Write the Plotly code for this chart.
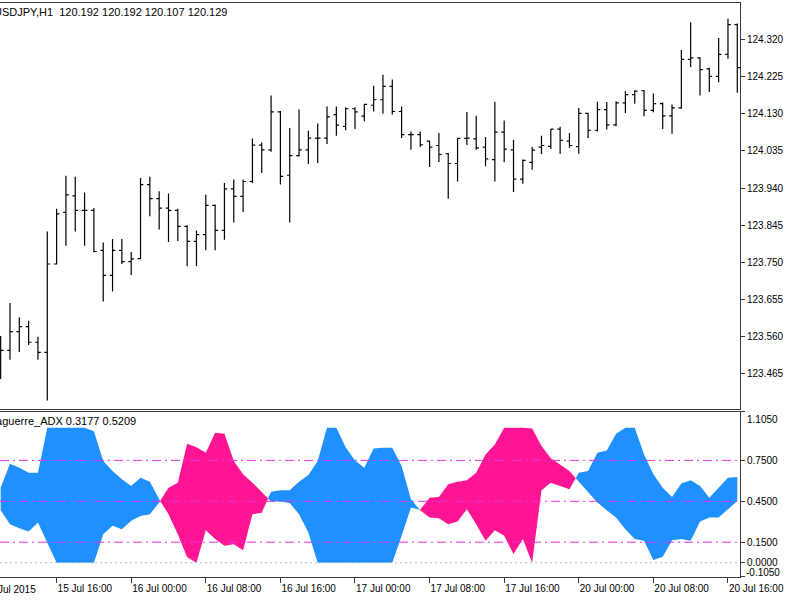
import numpy as np
import pandas as pd
import plotly.graph_objects as go

# ---------------- data ----------------
symbol_label = "USDJPY,H1\u00a0\u00a0120.192 120.192 120.107 120.129"
indicator_label = "Laguerre_ADX 0.3177 0.5209"

times = list(pd.date_range("2015-07-15 10:00", "2015-07-17 23:00", freq="h")) + \
        list(pd.date_range("2015-07-20 00:00", "2015-07-20 17:00", freq="h"))
first_label = "15 Jul 2015"   # label of 15 Jul 08:00, two bars before the first visible bar

opens = [123.484, 123.525, 123.573, 123.586, 123.546, 123.520, 123.746, 123.878, 123.920, 123.883,
         123.883, 123.781, 123.717, 123.781, 123.752, 123.760, 123.949, 123.913, 123.889, 123.883,
         123.842, 123.804, 123.821, 123.896, 123.832, 123.938, 123.919, 123.957, 124.050, 124.038,
         124.135, 123.973, 124.023, 124.038, 124.068, 124.068, 124.128, 124.098, 124.143, 124.124,
         124.152, 124.166, 124.200, 124.136, 124.077, 124.077, 124.060, 124.049, 124.028, 124.003,
         124.067, 124.066, 124.045, 124.013, 124.083, 124.038, 123.963, 124.006, 124.045, 124.047,
         124.091, 124.060, 124.046, 124.131, 124.088, 124.141, 124.102, 124.158, 124.179, 124.189,
         124.139, 124.156, 124.125, 124.145, 124.269, 124.273, 124.245, 124.226, 124.282, 124.358]
highs = [123.562, 123.646, 123.610, 123.601, 123.560, 123.829, 123.887, 123.972, 123.969, 123.929,
         123.889, 123.801, 123.810, 123.810, 123.777, 123.966, 123.969, 123.932, 123.926, 123.887,
         123.845, 123.832, 123.923, 123.898, 123.953, 123.962, 123.962, 124.067, 124.057, 124.177,
         124.137, 124.094, 124.141, 124.087, 124.105, 124.149, 124.149, 124.147, 124.147, 124.155,
         124.202, 124.230, 124.218, 124.149, 124.085, 124.085, 124.062, 124.081, 124.030, 124.067,
         124.135, 124.125, 124.071, 124.161, 124.113, 124.064, 124.013, 124.045, 124.074, 124.091,
         124.097, 124.081, 124.145, 124.133, 124.161, 124.160, 124.162, 124.188, 124.190, 124.191,
         124.182, 124.159, 124.154, 124.293, 124.364, 124.275, 124.248, 124.324, 124.373, 124.361]
lows = [123.452, 123.501, 123.521, 123.539, 123.501, 123.397, 123.745, 123.793, 123.829, 123.793,
        123.776, 123.650, 123.676, 123.746, 123.718, 123.758, 123.868, 123.834, 123.802, 123.805,
        123.740, 123.741, 123.781, 123.781, 123.808, 123.852, 123.879, 123.953, 123.979, 124.033,
        123.949, 123.852, 124.021, 124.002, 124.004, 124.053, 124.074, 124.088, 124.091, 124.111,
        124.136, 124.130, 124.128, 124.068, 124.038, 124.045, 123.994, 124.007, 123.913, 123.957,
        124.050, 124.038, 123.996, 123.957, 124.006, 123.930, 123.951, 123.987, 124.027, 124.040,
        124.028, 124.043, 124.028, 124.068, 124.085, 124.090, 124.098, 124.132, 124.156, 124.124,
        124.134, 124.091, 124.079, 124.143, 124.250, 124.177, 124.186, 124.211, 124.271, 124.184]
closes = [123.525, 123.573, 123.586, 123.546, 123.520, 123.746, 123.874, 123.923, 123.883, 123.883,
          123.778, 123.717, 123.781, 123.752, 123.759, 123.949, 123.913, 123.889, 123.883, 123.842,
          123.804, 123.821, 123.896, 123.832, 123.938, 123.919, 123.957, 124.050, 124.038, 124.135,
          123.970, 124.023, 124.038, 124.068, 124.068, 124.122, 124.101, 124.143, 124.135, 124.154,
          124.166, 124.200, 124.136, 124.077, 124.077, 124.051, 124.045, 124.026, 124.003, 124.067,
          124.068, 124.043, 124.015, 124.083, 124.040, 123.963, 124.011, 124.037, 124.049, 124.091,
          124.062, 124.049, 124.131, 124.088, 124.141, 124.102, 124.158, 124.179, 124.188, 124.139,
          124.156, 124.125, 124.145, 124.269, 124.273, 124.243, 124.226, 124.282, 124.358, 124.248]

# Laguerre ADX: two lines, blue fill where line_a > line_b, pink where line_b > line_a
line_a = [0.550, 0.726, 0.696, 0.660, 0.660, 0.990, 0.990, 0.990, 0.990, 0.990,
          0.964, 0.745, 0.672, 0.611, 0.562, 0.623, 0.594, 0.465, 0.355, 0.209,
          0.039, 0.000, 0.238, 0.173, 0.124, 0.136, 0.092, 0.355, 0.367, 0.521,
          0.531, 0.531, 0.594, 0.643, 0.745, 0.990, 0.990, 0.847, 0.750, 0.696,
          0.837, 0.843, 0.843, 0.708, 0.465, 0.384, 0.331, 0.326, 0.282, 0.302,
          0.392, 0.282, 0.160, 0.238, 0.197, 0.063, 0.173, 0.000, 0.531, 0.587,
          0.562, 0.538, 0.660, 0.672, 0.806, 0.823, 0.945, 0.990, 0.990, 0.794,
          0.648, 0.550, 0.482, 0.580, 0.604, 0.562, 0.477, 0.550, 0.623, 0.628]
line_b = [0.385, 0.282, 0.253, 0.229, 0.294, 0.148, 0.000, 0.000, 0.000, 0.000,
          0.000, 0.209, 0.270, 0.246, 0.307, 0.343, 0.355, 0.441, 0.550, 0.587,
          0.872, 0.847, 0.806, 0.952, 0.945, 0.745, 0.648, 0.587, 0.521, 0.448,
          0.448, 0.438, 0.355, 0.221, 0.000, 0.000, 0.000, 0.000, 0.000, 0.000,
          0.000, 0.000, 0.000, 0.197, 0.404, 0.388, 0.477, 0.482, 0.575, 0.594,
          0.604, 0.660, 0.794, 0.867, 0.990, 0.990, 0.990, 0.984, 0.855, 0.765,
          0.721, 0.672, 0.594, 0.521, 0.441, 0.385, 0.331, 0.246, 0.173, 0.160,
          0.019, 0.043, 0.165, 0.173, 0.160, 0.302, 0.331, 0.331, 0.392, 0.453]

price_ticks = [124.320, 124.225, 124.130, 124.035, 123.940, 123.845, 123.750, 123.655, 123.560, 123.465]
ind_ticks = [1.105, 0.75, 0.45, 0.15, 0.0, -0.105]
ind_tick_text = ["", "0.7500", "0.4500", "0.1500", "0.0000", ""]
ind_levels = [0.75, 0.45, 0.15]

# ---------------- derived ----------------
n = len(opens)
idx = list(range(n))
tick_idx = [i for i, t in enumerate(times) if t.hour % 8 == 0]
tick_text = [times[i].strftime("%d %b %H:%M") for i in tick_idx]

# insert crossing points so that fills switch colour exactly where the lines cross
xs, ae, be = [], [], []
for i in range(n):
    xs.append(i); ae.append(line_a[i]); be.append(line_b[i])
    if i < n - 1:
        d0 = line_a[i] - line_b[i]
        d1 = line_a[i + 1] - line_b[i + 1]
        if d0 * d1 < 0:
            t = d0 / (d0 - d1)
            yc = line_a[i] + t * (line_a[i + 1] - line_a[i])
            xs.append(i + t); ae.append(yc); be.append(yc)
lo = list(np.minimum(ae, be))

BLUE = "#1E90FF"
PINK = "#FF1493"
FRAME = "#3a3a3a"
FONT = "Liberation Sans, Arial, sans-serif"

fig = go.Figure()
fig.add_trace(go.Ohlc(
    x=idx, open=opens, high=highs, low=lows, close=closes,
    xaxis="x", yaxis="y", tickwidth=0.3,
    increasing=dict(line=dict(color="black", width=1.2)),
    decreasing=dict(line=dict(color="black", width=1.2)),
    hoverinfo="skip", showlegend=False))

for upper, col in ((ae, BLUE), (be, PINK)):
    fig.add_trace(go.Scatter(x=xs, y=lo, mode="lines", line=dict(width=0, color=col),
                             xaxis="x2", yaxis="y2", showlegend=False, hoverinfo="skip"))
    fig.add_trace(go.Scatter(x=xs, y=upper, mode="lines", line=dict(width=0, color=col),
                             fill="tonexty", fillcolor=col,
                             xaxis="x2", yaxis="y2", showlegend=False, hoverinfo="skip"))

shapes = [dict(type="line", xref="x2 domain", x0=0, x1=1, yref="y2", y0=lv, y1=lv,
               line=dict(color="#E033E0", width=1, dash="9px,4px,2px,4px"), layer="above")
          for lv in ind_levels]
shapes.append(dict(type="line", xref="x2 domain", x0=0, x1=1, yref="y2", y0=0, y1=0,
                   line=dict(color="#BDBDBD", width=1, dash="2px,3px"), layer="above"))

xr = [-0.07, 79.29]
bar_px = 740 / (xr[1] - xr[0])
axis_common = dict(showgrid=False, zeroline=False, automargin=False, linecolor=FRAME, linewidth=1,
                   tickcolor=FRAME, tickfont=dict(family=FONT, size=10, color="black"))

fig.update_layout(
    width=800, height=600,
    margin=dict(l=0, r=60, t=3, b=23),
    paper_bgcolor="white", plot_bgcolor="white",
    showlegend=False,
    font=dict(family=FONT, size=11, color="black"),
    xaxis=dict(domain=[0, 1], anchor="y", range=xr, showticklabels=False, ticks="",
               showline=True, mirror=True, rangeslider=dict(visible=False), **axis_common),
    yaxis=dict(domain=[0.2927, 1], anchor="x", side="right", range=[123.3753, 124.4134],
               tickvals=price_ticks, tickformat=".3f", ticks="outside", ticklen=4,
               showline=True, **axis_common),
    xaxis2=dict(domain=[0, 1], anchor="y2", range=xr, tickvals=tick_idx, ticktext=tick_text,
                ticks="outside", ticklen=5, ticklabelposition="outside right",
                ticklabelstandoff=2,
                showline=True, mirror=True, **axis_common),
    yaxis2=dict(domain=[0, 0.2875], anchor="x2", side="right", range=[-0.105, 1.105],
                tickvals=ind_ticks, ticktext=ind_tick_text, ticks="outside", ticklen=4,
                showline=True, **axis_common),
    shapes=shapes,
    annotations=[
        dict(text=symbol_label, xref="paper", x=0, xanchor="left", xshift=-8,
             yref="paper", y=1, yanchor="top", yshift=-1, showarrow=False,
             font=dict(family=FONT, size=11, color="black")),
        dict(text=indicator_label, xref="paper", x=0, xanchor="left", xshift=-12,
             yref="y2 domain", y=1, yanchor="top", yshift=-1, showarrow=False,
             font=dict(family=FONT, size=11, color="black")),
        dict(text="1.1050", xref="paper", x=1, xanchor="left", xshift=5,
             yref="y2 domain", y=1, yanchor="top", yshift=0, showarrow=False,
             font=dict(family=FONT, size=10, color="black")),
        dict(text="-0.1050", xref="paper", x=1, xanchor="left", xshift=4,
             yref="y2 domain", y=0, yanchor="bottom", yshift=-3, showarrow=False,
             font=dict(family=FONT, size=10, color="black")),
        dict(text=first_label, xref="paper", x=0, xanchor="left",
             xshift=(-2 - xr[0]) * bar_px,
             yref="y2 domain", y=0, yanchor="top", yshift=-5, showarrow=False,
             font=dict(family=FONT, size=10, color="black")),
    ],
)

fig.write_html("out.html")
